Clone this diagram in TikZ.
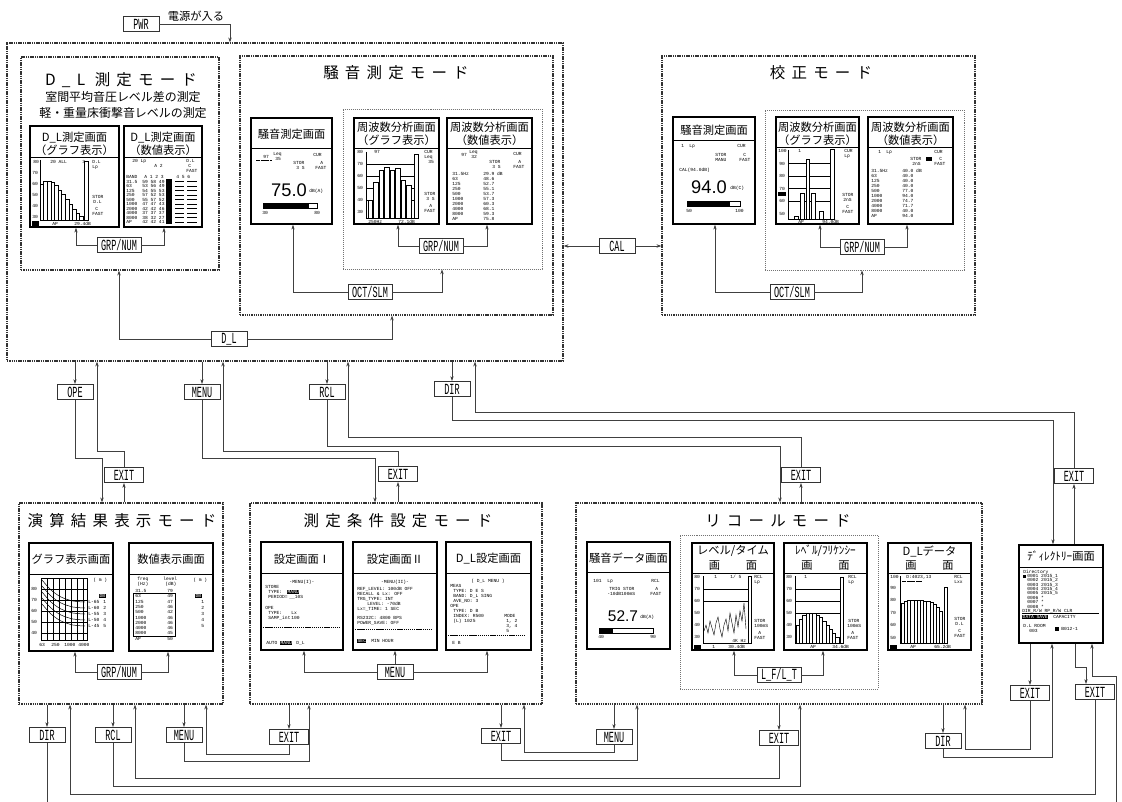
\documentclass[tikz,border=0pt]{standalone}
\usepackage{fontspec}
\setmainfont{Liberation Sans}
\newfontfamily\jpfont{Noto Sans CJK JP}
\newfontfamily\jptitle[LetterSpace=40]{Noto Sans CJK JP}
\newfontfamily\keyfont[FakeStretch=0.55]{Liberation Mono}
\newfontfamily\lcdmono{Liberation Mono}
\newfontfamily\lcdsans{Liberation Sans}
\usetikzlibrary{arrows.meta,fit}

\tikzset{
  modebox/.style={draw=black!80,line width=0.8pt,dash pattern=on 1pt off 0.6pt,inner sep=0pt},
  groupbox/.style={draw=black!55,line width=0.5pt,dash pattern=on 0.7pt off 0.7pt,inner sep=0pt},
  screen/.style={draw,line width=1pt,fill=white,inner sep=0pt},
  key/.style={draw=black!80,line width=0.5pt,fill=white,inner xsep=3pt,inner ysep=0pt,
    minimum width=0.9cm,minimum height=0.38cm,font=\keyfont\fontsize{11}{11}\selectfont},
  exitkey/.style={key,minimum width=0.97cm},
  link/.style={draw=black!75,line width=0.5pt,-{Stealth[length=3.5pt,width=2.4pt]}},
  mtitle/.style={font=\jptitle\fontsize{11}{13}\selectfont},
  subtitle/.style={font=\jpfont\fontsize{8.5}{10}\selectfont},
  stitle/.style={font=\jpfont\fontsize{8}{9}\selectfont,inner sep=0pt},
  lcd/.style={font=\lcdmono\fontsize{3.3}{3.6}\selectfont,inner sep=0pt,anchor=west},
  lcdblk/.style={lcd,fill=black,text=white,inner sep=0.3pt},
  lcdbig/.style={font=\lcdsans\fontsize{13}{13}\selectfont,inner sep=0pt},
  lcdline/.style={line width=0.3pt},
}

\newcommand{\lcdpanel}[4]{%
  \node[screen,fit={#2 #3}] (#1) {};
  \draw[line width=0.5pt] (#1.west |- 0,#4) -- (#1.east |- 0,#4);}

\begin{document}
\begin{tikzpicture}[x=0.025cm,y=-0.025cm]
\useasboundingbox (0,0) rectangle (1122,801);
\clip (0,0) rectangle (1122,801);

% mode frames
\node[modebox,fit={(7,43) (563,361)}] (topbox) {};
\node[modebox,fit={(21,57) (219,270)}] (dlmode) {};
\node[modebox,fit={(240,56) (553,315)}] (noisemode) {};
\node[modebox,fit={(662,56) (975,315)}] (calmode) {};
\node[modebox,fit={(19,503) (223,704)}] (opmode) {};
\node[modebox,fit={(250,503) (542,704)}] (setmode) {};
\node[modebox,fit={(576,503) (982,704)}] (recmode) {};
\node[groupbox,fit={(343,109) (542,269)}] (grpA) {};
\node[groupbox,fit={(765,110) (964,270)}] (grpB) {};
\node[groupbox,fit={(680,535) (878,689)}] (grpC) {};

\node[mtitle] at (121,80) {D\_L 測定モード};
\node[subtitle] at (123,97) {室間平均音圧レベル差の測定};
\node[subtitle] at (123,113) {軽・重量床衝撃音レベルの測定};
\node[mtitle] at (396,73) {騒音測定モード};
\node[mtitle] at (821,73) {校正モード};
\node[mtitle] at (122,521) {演算結果表示モード};
\node[mtitle] at (398,521) {測定条件設定モード};
\node[mtitle] at (778,521) {リコールモード};

% screens
\lcdpanel{dlgraph}{(30,126)}{(119,227)}{157}
\lcdpanel{dlnum}{(124,126)}{(202,227)}{157}
\lcdpanel{noise}{(251,118)}{(332,224)}{148}
\lcdpanel{fgraph}{(354,118)}{(439,224)}{148}
\lcdpanel{fnum}{(447,118)}{(532,224)}{148}
\lcdpanel{cnoise}{(673,117)}{(755,224)}{140}
\lcdpanel{cgraph}{(776,117)}{(859,224)}{147}
\lcdpanel{cnum}{(868,117)}{(953,224)}{147}
\lcdpanel{opgraph}{(29,543)}{(113,651)}{574}
\lcdpanel{opnum}{(129,543)}{(213,651)}{574}
\lcdpanel{set1}{(261,542)}{(343,650)}{573}
\lcdpanel{set2}{(353,542)}{(437,650)}{573}
\lcdpanel{dlset}{(446,542)}{(531,650)}{573}
\lcdpanel{rnoise}{(587,542)}{(670,649)}{572}
\lcdpanel{rlt}{(692,543)}{(774,650)}{573}
\lcdpanel{rlf}{(784,543)}{(867,650)}{573}
\lcdpanel{rdl}{(888,543)}{(971,650)}{573}
\lcdpanel{dirscr}{(1019,545)}{(1103,643)}{567}

\node[stitle] at (74.5,138) {D\_L測定画面};
\node[stitle] at (74.5,150) {（グラフ表示）};
\node[stitle] at (163,138) {D\_L測定画面};
\node[stitle] at (163,150) {（数値表示）};
\node[stitle] at (291.5,134) {騒音測定画面};
\node[stitle] at (396.5,127) {周波数分析画面};
\node[stitle] at (396.5,140) {（グラフ表示）};
\node[stitle] at (489.5,127) {周波数分析画面};
\node[stitle] at (489.5,140) {（数値表示）};
\node[stitle] at (714,130) {騒音測定画面};
\node[stitle] at (817.5,127) {周波数分析画面};
\node[stitle] at (817.5,140) {（グラフ表示）};
\node[stitle] at (910.5,127) {周波数分析画面};
\node[stitle] at (910.5,140) {（数値表示）};
\node[stitle] at (71,559) {グラフ表示画面};
\node[stitle] at (171,559) {数値表示画面};
\node[stitle] at (302,559) {設定画面Ⅰ};
\node[stitle] at (395,559) {設定画面Ⅱ};
\node[stitle] at (488.5,559) {D\_L設定画面};
\node[stitle] at (628.5,558) {騒音データ画面};
\node[stitle] at (733,551) {レベル/タイム};
\node[stitle] at (733,566) {画\hspace{2.3em}面};
\node[stitle] at (825.5,551) {ﾚﾍﾞﾙ/ﾌﾘｹﾝｼｰ};
\node[stitle] at (825.5,566) {画\hspace{2.3em}面};
\node[stitle] at (929.5,551) {D\_Lデータ};
\node[stitle] at (929.5,566) {画\hspace{2.3em}面};
\node[stitle] at (1061,556) {ﾃﾞｨﾚｸﾄﾘｰ画面};

% screen contents
\begin{scope}[shift={(30,157)}]
  \node[lcd] at (3,5) {80}; \node[lcd] at (20,5) {20 ALL}; \node[lcd] at (52,5) {3};
  \node[lcd] at (62,5) {D.L}; \node[lcd] at (62,10) {Lp};
  \foreach \v [count=\i] in {70,60,50,40,30} \node[lcd] at (2,{5+11*\i}) {\v};
  \draw[lcdline] (10,3) -- (10,63) -- (58,63);
  \foreach \t [count=\i from 0] in {27,24,24,25,28,33,37,42,47,52,56,59}
    \draw[lcdline] ({10+3.6*\i},63) rectangle ({13.6+3.6*\i},\t);
  \draw[lcdline] (54,4) rectangle (58,63);
  \fill (2,64) rectangle (9,69);
  \node[lcd] at (22,66.5) {AP}; \node[lcd] at (44,66.5) {29.4dB};
  \node[lcd] at (62,40) {STOR}; \node[lcd] at (63,45) {D.L};
  \node[lcd] at (65,52) {C}; \node[lcd] at (62,57) {FAST};
\end{scope}
\begin{scope}[shift={(124,157)}]
  \node[lcd] at (8,4) {20 Lp}; \node[lcd] at (30,9) {A 2};
  \node[lcd] at (62,4) {D.L}; \node[lcd] at (64,9) {C}; \node[lcd] at (62,14) {FAST};
  \node[lcd] at (2,20) {BAND}; \node[lcd] at (20,20) {A 1 2 3}; \node[lcd] at (52,20) {4 5 6};
  \fill (42,22) rectangle (48,67);
  \foreach \f/\v [count=\i] in {31.5/59 58 49,63/53 56 49,125/54 55 53,250/57 52 53,500/55 57 52,
      1000/47 47 43,2000/42 42 46,4000/37 37 37,8000/38 32 27,AP/42 42 41} {
    \node[lcd] at (2,{20+4.5*\i}) {\f};
    \node[lcd] at (18,{20+4.5*\i}) {\v};
    \draw[lcdline] (51,{20+4.5*\i}) -- (60,{20+4.5*\i}) (63,{20+4.5*\i}) -- (73,{20+4.5*\i});
  }
\end{scope}
\begin{scope}[shift={(251,148)}]
  \node[lcd] at (12,9) {97}; \node[lcd] at (22,6) {Leq}; \node[lcd] at (24,11) {35};
  \draw[lcdline,dash pattern=on 0.5pt off 0.3pt] (5,12) -- (20,12);
  \node[lcd] at (62,7) {CUR}; \node[lcd] at (42,15) {STOR}; \node[lcd] at (45,20) {3 S};
  \node[lcd] at (69,15) {A}; \node[lcd] at (64,20) {FAST};
  \node[lcdbig] at (38,42) {75.0}; \node[lcd] at (58,43) {dB(A)};
  \draw[lcdline] (12,55) rectangle (66,60); \fill (12,55) rectangle (58,60);
  \node[lcd] at (11,65) {30}; \node[lcd] at (63,65) {80};
\end{scope}
\begin{scope}[shift={(354,148)}]
  \node[lcd] at (3,4) {80}; \node[lcd] at (20,4) {97};
  \node[lcd] at (70,4) {CUR}; \node[lcd] at (70,9) {Leq}; \node[lcd] at (74,14) {35};
  \foreach \v [count=\i] in {70,60,50,40,30} \node[lcd] at (3,{4+12*\i}) {\v};
  \draw[lcdline] (12,4) -- (12,70) -- (64,70);
  \foreach \y in {16,28,40,52} \draw[line width=0.2pt] (12,\y) -- (60,\y);
  \foreach \t [count=\i from 0] in {52,34,22,19,22,20,32,37}
    \draw[lcdline,fill=white] ({14+5.5*\i},70) rectangle ({18.5+5.5*\i},\t);
  \draw[lcdline] (60,6) rectangle (64,70);
  \node[lcd] at (70,46) {STOR}; \node[lcd] at (72,51) {3 S};
  \node[lcd] at (75,58) {A}; \node[lcd] at (70,63) {FAST};
  \node[lcd] at (14,74) {250Hz}; \node[lcd] at (44,74) {72.1dB};
\end{scope}
\begin{scope}[shift={(447,148)}]
  \node[lcd] at (14,7) {97}; \node[lcd] at (22,4) {Leq}; \node[lcd] at (24,9) {32};
  \node[lcd] at (66,6) {CUR}; \node[lcd] at (42,14) {STOR}; \node[lcd] at (45,19) {3 S};
  \node[lcd] at (71,14) {A}; \node[lcd] at (66,19) {FAST};
  \foreach \f/\v [count=\i from 0] in {31.5Hz/29.9 dB,63/48.6,125/52.7,250/55.1,500/53.7,
      1000/57.3,2000/60.3,4000/68.1,8000/59.3,AP/75.8} {
    \node[lcd] at (5,{26+5*\i}) {\f};
    \node[lcd] at (36,{26+5*\i}) {\v};
  }
\end{scope}
\begin{scope}[shift={(673,140)}]
  \node[lcd] at (8,6) {1}; \node[lcd] at (16,6) {Lp}; \node[lcd] at (64,6) {CUR};
  \node[lcd] at (42,15) {STOR}; \node[lcd] at (42,20) {MANU};
  \node[lcd] at (70,15) {C}; \node[lcd] at (66,20) {FAST};
  \node[lcd] at (6,30) {CAL(94.0dB)};
  \node[lcdbig] at (36,47) {94.0}; \node[lcd] at (57,48) {dB(C)};
  \draw[lcdline] (14,61) rectangle (67,66); \fill (14,61) rectangle (57,66);
  \node[lcd] at (13,71) {50}; \node[lcd] at (62,71) {100};
\end{scope}
\begin{scope}[shift={(776,147)}]
  \node[lcd] at (2,4) {100}; \node[lcd] at (22,4) {1};
  \node[lcd] at (68,4) {CUR}; \node[lcd] at (68,9) {Lp};
  \foreach \v [count=\i] in {90,80,70,60,50} \node[lcd] at (3,{4+12.5*\i}) {\v};
  \fill (2,45) rectangle (10,49);
  \draw[lcdline] (12,3) -- (12,72) -- (58,72);
  \foreach \y in {16.5,29,41.5,54} \draw[line width=0.2pt] (12,\y) -- (54,\y);
  \foreach \a/\b/\t in {18/22/69,24/28/46,30/33/12,35/39/46,43/47/64}
    \draw[lcdline,fill=white] (\a,72) rectangle (\b,\t);
  \draw[lcdline] (54,2) rectangle (58,72);
  \node[lcd] at (66,48) {STOR}; \node[lcd] at (67,53) {2nS};
  \node[lcd] at (70,60) {C}; \node[lcd] at (66,65) {FAST};
  \node[lcd] at (22,75) {AP}; \node[lcd] at (46,75) {94.0dB};
\end{scope}
\begin{scope}[shift={(868,147)}]
  \node[lcd] at (10,5) {1}; \node[lcd] at (18,5) {Lp}; \node[lcd] at (66,5) {CUR};
  \node[lcd] at (42,12) {STOR}; \fill (58,10) rectangle (64,14);
  \node[lcd] at (44,17) {2nS}; \node[lcd] at (71,12) {C}; \node[lcd] at (66,17) {FAST};
  \foreach \f/\v [count=\i from 0] in {31.5Hz/40.0 dB,63/40.0,125/40.0,250/40.0,500/77.0,
      1000/94.0,2000/74.7,4000/71.7,8000/40.0,AP/94.0} {
    \node[lcd] at (3,{24+5*\i}) {\f};
    \node[lcd] at (34,{24+5*\i}) {\v};
  }
\end{scope}
\begin{scope}[shift={(29,574)}]
  \draw[lcdline] (12,4) rectangle (58,66);
  \foreach \x in {18,24,...,54} \draw[line width=0.2pt] (\x,4) -- (\x,66);
  \foreach \y in {15,26,37,48,59} \draw[line width=0.2pt] (12,\y) -- (58,\y);
  \foreach \v [count=\i from 0] in {80,70,60,50,40} \node[lcd] at (2,{15+11*\i}) {\v};
  \node[lcd] at (10,71) {63}; \node[lcd] at (22,71) {250};
  \node[lcd] at (35,71) {1000}; \node[lcd] at (49,71) {4000};
  \node[lcd] at (64,6) {( m )};
  \foreach \a in {6,12,18,24,30}
    \draw[line width=0.35pt] plot[smooth] coordinates {(13,\a) (22,{\a+10}) (32,{\a+17}) (44,{\a+21}) (56,{\a+22})};
  \foreach \n [count=\i] in {L-65,L-60,L-55,L-50,L-45} \node[lcd] at (59,{22+6*\i}) {\n};
  \node[lcdblk] at (70,22) {DB};
  \foreach \i in {1,...,5} \node[lcd] at (74,{22+6*\i}) {\i};
\end{scope}
\begin{scope}[shift={(129,574)}]
  \node[lcd] at (8,5) {freq}; \node[lcd] at (8,10) {(Hz)};
  \node[lcd] at (34,5) {level}; \node[lcd] at (36,10) {(dB)}; \node[lcd] at (64,6) {( m )};
  \foreach \f/\v [count=\i from 0] in {31.5/79,63/49,125/47,250/46,500/42,1000/46,2000/46,4000/46,8000/45,AP/50} {
    \node[lcd] at (6,{17+5.3*\i}) {\f};
    \node[lcd] at (38,{17+5.3*\i}) {\v};
  }
  \draw[lcdline] (4,19.5) rectangle (46,62);
  \node[lcdblk] at (66,22) {DB};
  \foreach \i in {1,...,5} \node[lcd] at (72,{22+6*\i}) {\i};
\end{scope}
\begin{scope}[shift={(261,573)}]
  \node[lcd,anchor=center] at (41,9) {-MENU(I)-};
  \node[lcd] at (4,14) {STORE}; \node[lcd] at (7,19) {TYPE:}; \node[lcdblk] at (26,19) {MANU};
  \node[lcd] at (7,24) {PERIOD=}; \node[lcd] at (28,24) {\_\_10S};
  \node[lcd] at (4,35) {OPE}; \node[lcd] at (7,40) {TYPE:}; \node[lcd] at (30,40) {Lx};
  \node[lcd] at (7,45) {SAMP\_int}; \node[lcd] at (30,45) {100};
  \draw[lcdline,dash pattern=on 1pt off 0.5pt] (2,54) -- (78,54);
  \node[lcd] at (5,70) {AUTO}; \node[lcdblk] at (19,70) {MANU}; \node[lcd] at (35,70) {D\_L};
\end{scope}
\begin{scope}[shift={(353,573)}]
  \node[lcd,anchor=center] at (42,9) {-MENU(II)-};
  \node[lcd] at (4,16) {REF\_LEVEL: 100dB OFF};
  \node[lcd] at (4,21) {RECALL \& Lx:  OFF};
  \node[lcd] at (4,26) {TRG\_TYPE: INT};
  \node[lcd] at (14,31) {LEVEL: -70dB};
  \node[lcd] at (4,36) {Lx=\_TIME: 1 SEC};
  \node[lcd] at (4,45) {RS232C:  4800 BPS};
  \node[lcd] at (4,50) {POWER\_SAVE:  OFF};
  \draw[lcdline,dash pattern=on 1pt off 0.5pt] (2,56) -- (80,56);
  \node[lcdblk] at (4,68) {SEC}; \node[lcd] at (18,68) {MIN HOUR};
\end{scope}
\begin{scope}[shift={(446,573)}]
  \node[lcd,anchor=center] at (42,8) {( D\_L MENU )};
  \node[lcd] at (4,13) {MEAS}; \node[lcd] at (7,18) {TYPE: D E S};
  \node[lcd] at (7,23) {BAND: D\_L SING}; \node[lcd] at (7,28) {AVE\_NO: 3};
  \node[lcd] at (4,33) {OPE}; \node[lcd] at (7,38) {TYPE: D B};
  \node[lcd] at (7,43) {INDEX: R500}; \node[lcd] at (58,43) {MODE};
  \node[lcd] at (7,48) {(L) 1025}; \node[lcd] at (60,48) {1, 2};
  \node[lcd] at (60,53) {3, 4}; \node[lcd] at (60,58) {5};
  \draw[lcdline,dash pattern=on 1pt off 0.5pt] (2,62) -- (80,62);
  \node[lcd] at (6,70) {E B};
\end{scope}
\begin{scope}[shift={(587,572)}]
  \node[lcd] at (6,9) {101}; \node[lcd] at (20,9) {Lp}; \node[lcd] at (64,9) {RCL};
  \node[lcd] at (22,17) {TRIG STOR}; \node[lcd] at (68,17) {A};
  \node[lcd] at (20,22) {-10dB100mS}; \node[lcd] at (63,22) {FAST};
  \node[lcdbig,font=\lcdsans\fontsize{11}{11}\selectfont] at (36,44) {52.7};
  \node[lcd] at (53,45) {dB(A)};
  \draw[lcdline] (12,56) rectangle (66,61); \fill (12,56) rectangle (26,61);
  \node[lcd] at (11,65) {40}; \node[lcd] at (63,65) {90};
\end{scope}
\begin{scope}[shift={(692,573)}]
  \node[lcd] at (2,4) {80}; \node[lcd] at (22,4) {1}; \node[lcd] at (38,4) {1/ 5};
  \node[lcd] at (62,4) {RCL}; \node[lcd] at (62,9) {Lp};
  \foreach \v [count=\i] in {70,60,50,40,30} \node[lcd] at (2,{4+12*\i}) {\v};
  \draw[lcdline] (11,3) -- (11,70) -- (56,70);
  \foreach \y in {16,28} \draw[line width=0.2pt] (11,\y) -- (56,\y);
  \draw[lcdline] plot coordinates {(12,58) (14,52) (16,60) (18,48) (20,55) (22,62) (24,50) (26,44)
    (28,56) (30,64) (32,52) (34,46) (36,58) (38,40) (40,50) (42,60) (44,42) (46,54) (48,38)
    (50,48) (52,30) (54,56)};
  \draw[lcdline] (56,3) rectangle (59,70);
  \node[lcd] at (62,48) {STOR}; \node[lcd] at (62,53) {100mS};
  \node[lcd] at (66,60) {A}; \node[lcd] at (62,65) {FAST};
  \fill (2,72) rectangle (9,77);
  \node[lcd] at (20,74) {1}; \node[lcd] at (40,68) {4K Hz}; \node[lcd] at (36,74) {30.4dB};
\end{scope}
\begin{scope}[shift={(784,573)}]
  \node[lcd] at (2,4) {80}; \node[lcd] at (20,4) {1};
  \node[lcd] at (64,4) {RCL}; \node[lcd] at (64,9) {Lp};
  \foreach \v [count=\i] in {70,60,50,40,30} \node[lcd] at (2,{4+12*\i}) {\v};
  \draw[lcdline] (11,3) -- (11,70) -- (56,70);
  \foreach \y in {16,28,40} \draw[line width=0.2pt] (11,\y) -- (56,\y);
  \foreach \t [count=\i from 0] in {52,46,42,40,40,40,42,44,48,52,56,60,64}
    \draw[lcdline,fill=white] ({12+3.3*\i},70) rectangle ({15.3+3.3*\i},\t);
  \draw[lcdline] (56,4) rectangle (59,70);
  \node[lcd] at (64,48) {STOR}; \node[lcd] at (63,53) {100mS};
  \node[lcd] at (67,60) {A}; \node[lcd] at (63,65) {FAST};
  \node[lcd] at (26,74) {AP}; \node[lcd] at (48,74) {34.6dB};
\end{scope}
\begin{scope}[shift={(888,573)}]
  \node[lcd] at (2,4) {100}; \node[lcd] at (18,4) {D:4023,13};
  \node[lcd] at (66,4) {RCL}; \node[lcd] at (66,9) {Lxx};
  \draw[lcdline,dash pattern=on 0.5pt off 0.3pt] (14,8) -- (34,8);
  \foreach \v [count=\i] in {90,80,70,60,50} \node[lcd] at (2,{2+12.5*\i}) {\v};
  \draw[lcdline] (12,3) -- (12,70) -- (56,70);
  \foreach \t [count=\i from 0] in {30,28,27,27,27,27,27,28,28,29,31,34,38}
    \draw[lcdline,fill=white] ({13+3.2*\i},70) rectangle ({16.2+3.2*\i},\t);
  \draw[lcdline] (56,14) rectangle (59,70);
  \node[lcd] at (66,46) {STOR}; \node[lcd] at (67,51) {D.L};
  \node[lcd] at (70,58) {C}; \node[lcd] at (66,63) {FAST};
  \fill (2,72) rectangle (9,77);
  \node[lcd] at (22,74) {AP}; \node[lcd] at (46,74) {65.2dB};
\end{scope}
\begin{scope}[shift={(1019,567)}]
  \node[lcd] at (4,5) {Directory};
  \fill (4,8) rectangle (7,11);
  \foreach \i in {1,...,5} \node[lcd] at (8,{5+4.3*\i}) {000\i \ 2015\_\i};
  \foreach \i in {6,7,8} \node[lcd] at (8,{5+4.3*\i}) {000\i \ *};
  \node[lcd] at (3,44) {DIR\_R/W RP\_R/W CLR};
  \draw[lcdline] (3,46.5) -- (80,46.5);
  \node[lcdblk] at (3,50) {DATA SAVE}; \node[lcd] at (34,50) {CAPACITY};
  \node[lcd] at (4,59) {D.L ROOM}; \node[lcd] at (10,64) {003};
  \fill (36,60) rectangle (40,64); \node[lcd] at (42,62) {B012-1};
\end{scope}

% keys
\node[key] (pwr) at (141,24) {PWR};
\node[font=\jpfont\fontsize{8}{9}\selectfont] at (196,16) {電源が入る};
\node[key] (grp1) at (119,245) {GRP/NUM};
\node[key] (grp2) at (441,246) {GRP/NUM};
\node[key] (oct1) at (370,292) {OCT/SLM};
\node[key] (dlkey) at (229,339) {D\_L};
\node[key] (cal) at (617,246) {CAL};
\node[key] (grp3) at (862,247) {GRP/NUM};
\node[key] (oct2) at (792,292) {OCT/SLM};
\node[key] (ope) at (75,392) {OPE};
\node[key] (menu1) at (202,392) {MENU};
\node[key] (rcl1) at (327,392) {RCL};
\node[key] (dir1) at (452,389) {DIR};
\node[exitkey] (exit1) at (124,475) {EXIT};
\node[exitkey] (exit2) at (398,474) {EXIT};
\node[exitkey] (exit3) at (801,475) {EXIT};
\node[exitkey] (exit4) at (1074,476) {EXIT};
\node[key] (grp4) at (119,672) {GRP/NUM};
\node[key] (menu2) at (395,672) {MENU};
\node[key] (lflt) at (779,675) {L\_F/L\_T};
\node[key] (dir2) at (47,735) {DIR};
\node[key] (rcl2) at (113,735) {RCL};
\node[key] (menu3) at (184,735) {MENU};
\node[exitkey] (exit5) at (289,737) {EXIT};
\node[exitkey] (exit6) at (501,736) {EXIT};
\node[key] (menu4) at (614,737) {MENU};
\node[exitkey] (exit7) at (779,738) {EXIT};
\node[key] (dir3) at (943,741) {DIR};
\node[exitkey] (exit8) at (1030,693) {EXIT};
\node[exitkey] (exit9) at (1095,692) {EXIT};

% links inside the modes
\draw[link] (pwr.east) -| (topbox.north -| 230,0);
\draw[link] (grp1.west) -| (dlgraph.south -| 76,0);
\draw[link] (grp1.east) -| (dlnum.south -| 164,0);
\draw[link] (grp2.west) -| (fgraph.south -| 398,0);
\draw[link] (grp2.east) -| (fnum.south -| 487,0);
\draw[link] (oct1.west) -| (noise.south -| 293,0);
\draw[link] (oct1.east) -| (grpA.south -| 442,0);
\draw[link] (dlkey.west) -| (dlmode.south -| 119,0);
\draw[link] (dlkey.east) -| (noisemode.south -| 392,0);
\draw[link] (cal.west) -- (cal.west -| topbox.east);
\draw[link] (cal.east) -- (cal.east -| calmode.west);
\draw[link] (grp3.west) -| (cgraph.south -| 820,0);
\draw[link] (grp3.east) -| (cnum.south -| 907,0);
\draw[link] (oct2.west) -| (cnoise.south -| 715,0);
\draw[link] (oct2.east) -| (grpB.south -| 862,0);
\draw[link] (grp4.west) -| (opgraph.south -| 75,0);
\draw[link] (grp4.east) -| (opnum.south -| 168,0);
\draw[link] (menu2.west) -| (set1.south -| 304,0);
\draw[link] (menu2.east) -| (dlset.south -| 487,0);
\draw[link] (menu2.north) -- (set2.south -| menu2);
\draw[link] (lflt.west) -| (rlt.south -| 734,0);
\draw[link] (lflt.east) -| (rlf.south -| 823,0);

% links between the modes
\draw[link] (topbox.south -| ope) -- (ope.north);
\draw[link] (ope.south) |- (102,458) -- (opmode.north -| 102,0);
\draw[link] (opmode.north -| exit1) -- (exit1.south);
\draw[link] (exit1.north) |- (97,451) -- (topbox.south -| 97,0);
\draw[link] (topbox.south -| menu1) -- (menu1.north);
\draw[link] (menu1.south) |- (375,458) -- (setmode.north -| 375,0);
\draw[link] (setmode.north -| exit2) -- (exit2.south);
\draw[link] (exit2.north) |- (223,451) -- (topbox.south -| 223,0);
\draw[link] (topbox.south -| rcl1) -- (rcl1.north);
\draw[link] (rcl1.south) |- (780,446) -- (recmode.north -| 780,0);
\draw[link] (recmode.north -| exit3) -- (exit3.south);
\draw[link] (exit3.north) |- (348,437) -- (topbox.south -| 348,0);
\draw[link] (topbox.south -| dir1) -- (dir1.north);
\draw[link] (dir1.south) |- (1053,420) -- (dirscr.north -| 1053,0);
\draw[link] (dirscr.north -| exit4) -- (exit4.south);
\draw[link] (exit4.north) |- (475,412) -- (topbox.south -| 475,0);

\draw[link] (opmode.south -| dir2) -- (dir2.north);
\draw[link] (opmode.south -| rcl2) -- (rcl2.north);
\draw[link] (opmode.south -| menu3) -- (menu3.north);
\draw[link] (setmode.south -| exit5) -- (exit5.north);
\draw[link] (setmode.south -| exit6) -- (exit6.north);
\draw[link] (recmode.south -| menu4) -- (menu4.north);
\draw[link] (recmode.south -| exit7) -- (exit7.north);
\draw[link] (recmode.south -| dir3) -- (dir3.north);
\draw[link] (dirscr.south -| exit8) -- (exit8.north);
\draw[link] (dirscr.south -| 1075,0) |- (1086,667) -- (exit9.north -| 1086,0);

\draw[link] (exit5.south) |- (206,754) -- (opmode.south -| 206,0);
\draw[link] (menu3.south) |- (309,761) -- (setmode.south -| 309,0);
\draw[link] (menu4.south) |- (524,752) -- (setmode.south -| 524,0);
\draw[link] (exit6.south) |- (637,760) -- (recmode.south -| 637,0);
\draw[link] (exit7.south) |- (135,778) -- (opmode.south -| 135,0);
\draw[link] (rcl2.south) |- (800,786) -- (recmode.south -| 800,0);
\draw[link] (exit8.south) |- (965,749) -- (recmode.south -| 965,0);
\draw[link] (dir3.south) |- (1052,757) -- (dirscr.south -| 1052,0);
\draw[link] (exit9.south) |- (70,794) -- (opmode.south -| 70,0);
\draw[link] (dir2.south) -- (47,806) -| (1116,676) -| (dirscr.south -| 1092,0);
\end{tikzpicture}
\end{document}
